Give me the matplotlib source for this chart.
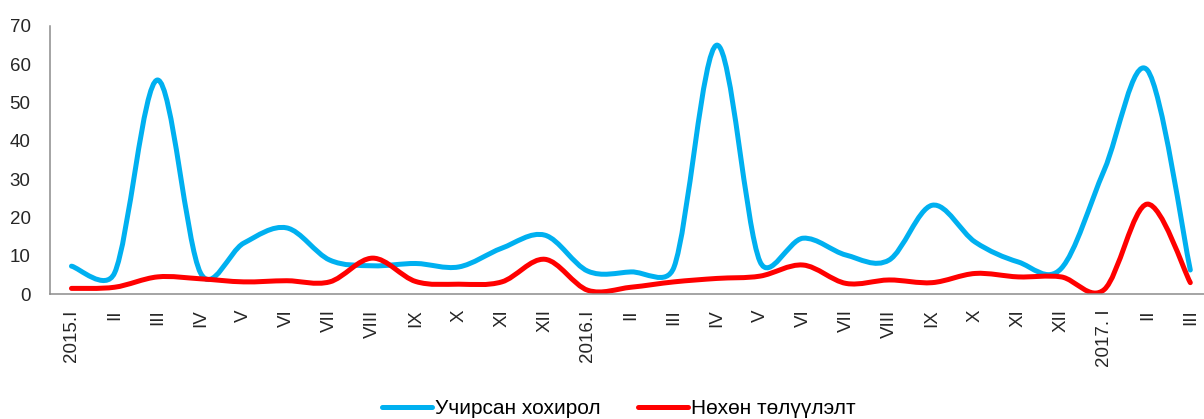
"""
Monthly loss vs. recovery chart (2015.I - 2017.III), smoothed lines.
"""

import math

import matplotlib
matplotlib.use("Agg")
import matplotlib.pyplot as plt
from matplotlib.path import Path
from matplotlib.patches import PathPatch
from matplotlib.lines import Line2D


# -----------------------------
# Data
# -----------------------------

months = ["2015.I", "II", "III", "IV", "V", "VI", "VII", "VIII", "IX", "X", "XI", "XII",
          "2016.I", "II", "III", "IV", "V", "VI", "VII", "VIII", "IX", "X", "XI", "XII",
          "2017. I", "II", "III"]

loss = [7.3, 5.5, 55.9, 5.5, 13.3, 17.3, 8.9, 7.4, 8.0, 7.1, 12.0, 15.4,
        6.0, 5.8, 7.0, 65.0, 8.5, 14.6, 10.2, 8.9, 23.2, 13.6, 8.4, 6.7,
        32.4, 58.5, 6.3]

recovery = [1.5, 1.8, 4.5, 4.0, 3.2, 3.5, 3.2, 9.4, 3.3, 2.6, 3.2, 9.1,
            1.0, 1.8, 3.2, 4.1, 4.7, 7.6, 2.8, 3.7, 3.0, 5.4, 4.5, 4.5,
            1.2, 23.5, 3.0]

series_names = ["Учирсан хохирол", "Нөхөн төлүүлэлт"]
series_colors = ["#00B0F0", "#FF0000"]


# -----------------------------
# Helpers
# -----------------------------

def smooth_path(xs, ys, sx=43.0, sy=3.83):
    """
    Bezier path through every point, like a spreadsheet "smoothed line".
    Control arms are 1/6 of the neighbour chord, capped at half the
    segment length (measured in screen-like units sx, sy).
    """
    pts = list(zip(xs, ys))
    n = len(pts)

    def dist(a, b):
        return math.hypot((a[0] - b[0]) * sx, (a[1] - b[1]) * sy)

    verts = [pts[0]]
    codes = [Path.MOVETO]
    for i in range(n - 1):
        p0 = pts[max(i - 1, 0)]
        p1 = pts[i]
        p2 = pts[i + 1]
        p3 = pts[min(i + 2, n - 1)]
        seg = dist(p1, p2)

        d02 = dist(p0, p2)
        f1 = 1 / 6
        if d02 > 0 and f1 * d02 > seg / 2:
            f1 = seg / (2 * d02)
        d13 = dist(p1, p3)
        f2 = 1 / 6
        if d13 > 0 and f2 * d13 > seg / 2:
            f2 = seg / (2 * d13)

        c1 = (p1[0] + (p2[0] - p0[0]) * f1, p1[1] + (p2[1] - p0[1]) * f1)
        c2 = (p2[0] - (p3[0] - p1[0]) * f2, p2[1] - (p3[1] - p1[1]) * f2)
        verts += [c1, c2, p2]
        codes += [Path.CURVE4] * 3
    return Path(verts, codes)


# -----------------------------
# Plot
# -----------------------------

def main():
    plt.rcParams["font.family"] = ["Liberation Sans", "DejaVu Sans"]

    fig = plt.figure(figsize=(12.04, 4.19), dpi=100)
    ax = fig.add_axes([0.0415, 0.298, 0.965, 0.64])

    x = list(range(len(months)))
    for vals, color in zip([loss, recovery], series_colors):
        patch = PathPatch(smooth_path(x, vals), fill=False, edgecolor=color,
                          linewidth=3.6, capstyle="round", joinstyle="round")
        ax.add_patch(patch)

    ax.set_xlim(-0.5, len(months) - 0.5)
    ax.set_ylim(0, 70)
    ax.set_yticks(range(0, 71, 10))

    ax.set_xticks(x)
    ax.set_xticklabels(months, rotation=90, ha="center", va="top")

    for side in ["top", "right"]:
        ax.spines[side].set_visible(False)
    for side in ["left", "bottom"]:
        ax.spines[side].set_color("#8C8C8C")
        ax.spines[side].set_linewidth(1.1)

    ax.tick_params(axis="y", length=0, pad=14, labelsize=13.5, labelcolor="#262626")
    ax.tick_params(axis="x", length=0, pad=11, labelsize=13.5, labelcolor="#262626")

    handles = [Line2D([], [], color=c, linewidth=3.6, solid_capstyle="round")
               for c in series_colors]
    fig.legend(handles, series_names, loc="center", bbox_to_anchor=(0.514, 0.024),
               ncol=2, frameon=False, handlelength=2.4, handletextpad=0.15,
               columnspacing=1.8, prop={"size": 15})

    fig.savefig("out.png", dpi=100)


if __name__ == "__main__":
    main()
